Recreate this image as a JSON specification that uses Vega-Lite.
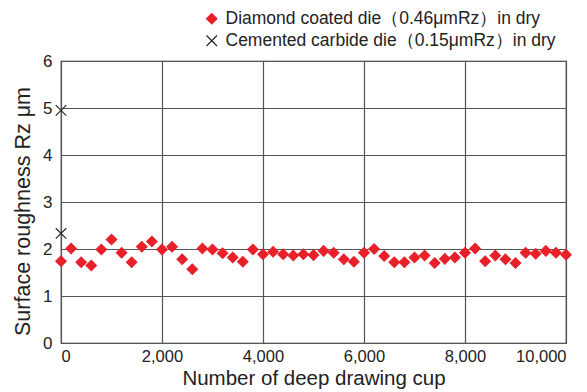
{
  "$schema": "https://vega.github.io/schema/vega-lite/v6.json",
  "width": 505,
  "height": 282,
  "autosize": {"type": "none"},
  "padding": {"left": 61, "top": 61, "right": 21, "bottom": 49},
  "background": "white",
  "config": {
    "font": "Liberation Sans",
    "view": {"stroke": "#222", "strokeWidth": 1.2},
    "axis": {"labelFont": "Liberation Sans", "titleFont": "Liberation Sans", "labelColor": "#222", "titleColor": "#222", "titleFontWeight": "normal"},
    "legend": {"labelFont": "Liberation Sans", "labelLimit": 600}
  },
  "data": {
    "values": [
      {"series": "Cemented carbide die（0.15μmRz）in dry", "x": 0, "y": 4.95},
      {"series": "Cemented carbide die（0.15μmRz）in dry", "x": 0, "y": 2.33},
      {"series": "Diamond coated die（0.46μmRz）in dry", "x": 0, "y": 1.74},
      {"series": "Diamond coated die（0.46μmRz）in dry", "x": 200, "y": 2.01},
      {"series": "Diamond coated die（0.46μmRz）in dry", "x": 400, "y": 1.72},
      {"series": "Diamond coated die（0.46μmRz）in dry", "x": 600, "y": 1.65},
      {"series": "Diamond coated die（0.46μmRz）in dry", "x": 800, "y": 1.99},
      {"series": "Diamond coated die（0.46μmRz）in dry", "x": 1000, "y": 2.2},
      {"series": "Diamond coated die（0.46μmRz）in dry", "x": 1200, "y": 1.92},
      {"series": "Diamond coated die（0.46μmRz）in dry", "x": 1400, "y": 1.72},
      {"series": "Diamond coated die（0.46μmRz）in dry", "x": 1600, "y": 2.05},
      {"series": "Diamond coated die（0.46μmRz）in dry", "x": 1800, "y": 2.16},
      {"series": "Diamond coated die（0.46μmRz）in dry", "x": 2000, "y": 1.99},
      {"series": "Diamond coated die（0.46μmRz）in dry", "x": 2200, "y": 2.05},
      {"series": "Diamond coated die（0.46μmRz）in dry", "x": 2400, "y": 1.78},
      {"series": "Diamond coated die（0.46μmRz）in dry", "x": 2600, "y": 1.57},
      {"series": "Diamond coated die（0.46μmRz）in dry", "x": 2800, "y": 2.01},
      {"series": "Diamond coated die（0.46μmRz）in dry", "x": 3000, "y": 1.99},
      {"series": "Diamond coated die（0.46μmRz）in dry", "x": 3200, "y": 1.91},
      {"series": "Diamond coated die（0.46μmRz）in dry", "x": 3400, "y": 1.82},
      {"series": "Diamond coated die（0.46μmRz）in dry", "x": 3600, "y": 1.73},
      {"series": "Diamond coated die（0.46μmRz）in dry", "x": 3800, "y": 1.99},
      {"series": "Diamond coated die（0.46μmRz）in dry", "x": 4000, "y": 1.89},
      {"series": "Diamond coated die（0.46μmRz）in dry", "x": 4200, "y": 1.94},
      {"series": "Diamond coated die（0.46μmRz）in dry", "x": 4400, "y": 1.89},
      {"series": "Diamond coated die（0.46μmRz）in dry", "x": 4600, "y": 1.86},
      {"series": "Diamond coated die（0.46μmRz）in dry", "x": 4800, "y": 1.89},
      {"series": "Diamond coated die（0.46μmRz）in dry", "x": 5000, "y": 1.87},
      {"series": "Diamond coated die（0.46μmRz）in dry", "x": 5200, "y": 1.96},
      {"series": "Diamond coated die（0.46μmRz）in dry", "x": 5400, "y": 1.92},
      {"series": "Diamond coated die（0.46μmRz）in dry", "x": 5600, "y": 1.78},
      {"series": "Diamond coated die（0.46μmRz）in dry", "x": 5800, "y": 1.73},
      {"series": "Diamond coated die（0.46μmRz）in dry", "x": 6000, "y": 1.92},
      {"series": "Diamond coated die（0.46μmRz）in dry", "x": 6200, "y": 2.0},
      {"series": "Diamond coated die（0.46μmRz）in dry", "x": 6400, "y": 1.85},
      {"series": "Diamond coated die（0.46μmRz）in dry", "x": 6600, "y": 1.72},
      {"series": "Diamond coated die（0.46μmRz）in dry", "x": 6800, "y": 1.72},
      {"series": "Diamond coated die（0.46μmRz）in dry", "x": 7000, "y": 1.82},
      {"series": "Diamond coated die（0.46μmRz）in dry", "x": 7200, "y": 1.86},
      {"series": "Diamond coated die（0.46μmRz）in dry", "x": 7400, "y": 1.7},
      {"series": "Diamond coated die（0.46μmRz）in dry", "x": 7600, "y": 1.79},
      {"series": "Diamond coated die（0.46μmRz）in dry", "x": 7800, "y": 1.82},
      {"series": "Diamond coated die（0.46μmRz）in dry", "x": 8000, "y": 1.92},
      {"series": "Diamond coated die（0.46μmRz）in dry", "x": 8200, "y": 2.01},
      {"series": "Diamond coated die（0.46μmRz）in dry", "x": 8400, "y": 1.74},
      {"series": "Diamond coated die（0.46μmRz）in dry", "x": 8600, "y": 1.86},
      {"series": "Diamond coated die（0.46μmRz）in dry", "x": 8800, "y": 1.78},
      {"series": "Diamond coated die（0.46μmRz）in dry", "x": 9000, "y": 1.7},
      {"series": "Diamond coated die（0.46μmRz）in dry", "x": 9200, "y": 1.92},
      {"series": "Diamond coated die（0.46μmRz）in dry", "x": 9400, "y": 1.9},
      {"series": "Diamond coated die（0.46μmRz）in dry", "x": 9600, "y": 1.96},
      {"series": "Diamond coated die（0.46μmRz）in dry", "x": 9800, "y": 1.92},
      {"series": "Diamond coated die（0.46μmRz）in dry", "x": 10000, "y": 1.88}
    ]
  },
  "mark": {"type": "point", "opacity": 1, "strokeWidth": 1.1},
  "encoding": {
    "x": {
      "field": "x", "type": "quantitative",
      "scale": {"domain": [0, 10000], "nice": false, "zero": false},
      "axis": {
        "values": [0, 2000, 4000, 6000, 8000, 10000], "format": ",d",
        "title": "Number of deep drawing cup", "titleFontSize": 20.5, "titlePadding": 4,
        "labelFontSize": 16.5, "labelPadding": 5, "ticks": false, "domain": false,
        "gridColor": "#555", "gridOpacity": 1, "gridWidth": 1.2
      }
    },
    "y": {
      "field": "y", "type": "quantitative",
      "scale": {"domain": [0, 6], "nice": false},
      "axis": {
        "values": [0, 1, 2, 3, 4, 5, 6],
        "title": "Surface roughness Rz  μm", "titleFontSize": 21.5, "titlePadding": 8, "titleY": 150,
        "labelFontSize": 17, "labelPadding": 9, "ticks": false, "domain": false,
        "gridColor": "#555", "gridOpacity": 1, "gridWidth": 1.2
      }
    },
    "shape": {
      "field": "series", "type": "nominal",
      "scale": {
        "domain": ["Diamond coated die（0.46μmRz）in dry", "Cemented carbide die（0.15μmRz）in dry"],
        "range": ["diamond", "M-1,-1L1,1M1,-1L-1,1"]
      },
      "legend": {
        "title": null, "orient": "none", "legendX": 142, "legendY": -51,
        "labelFontSize": 17.5, "labelColor": "#222", "symbolSize": 110, "rowPadding": 3, "labelOffset": 5, "symbolStrokeWidth": 1.1
      }
    },
    "fill": {
      "field": "series", "type": "nominal",
      "scale": {
        "domain": ["Diamond coated die（0.46μmRz）in dry", "Cemented carbide die（0.15μmRz）in dry"],
        "range": ["#e8202a", "transparent"]
      },
      "legend": {
        "title": null, "orient": "none", "legendX": 142, "legendY": -51,
        "labelFontSize": 17.5, "labelColor": "#222", "symbolSize": 110, "rowPadding": 3, "labelOffset": 5, "symbolStrokeWidth": 1.1
      }
    },
    "stroke": {
      "field": "series", "type": "nominal",
      "scale": {
        "domain": ["Diamond coated die（0.46μmRz）in dry", "Cemented carbide die（0.15μmRz）in dry"],
        "range": ["#e8202a", "#222"]
      },
      "legend": {
        "title": null, "orient": "none", "legendX": 142, "legendY": -51,
        "labelFontSize": 17.5, "labelColor": "#222", "symbolSize": 110, "rowPadding": 3, "labelOffset": 5, "symbolStrokeWidth": 1.1
      }
    },
    "size": {"value": 110}
  }
}
